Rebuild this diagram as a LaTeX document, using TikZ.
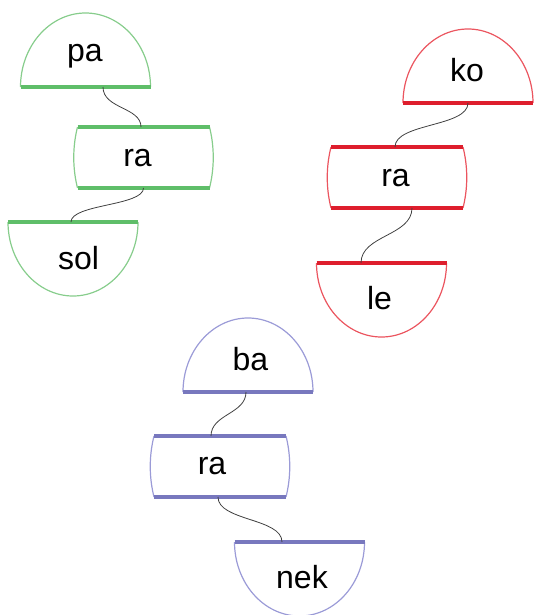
\documentclass[tikz,border=0pt]{standalone}
\usepackage{fontspec}
\setmainfont{Liberation Sans}
\newdimen\pxu \pxu=0.75pt
\definecolor{gthk}{RGB}{95,190,105}
\definecolor{gout}{RGB}{135,205,140}
\definecolor{rthk}{RGB}{222,30,45}
\definecolor{rout}{RGB}{235,85,95}
\definecolor{bthk}{RGB}{120,120,190}
\definecolor{bout}{RGB}{155,155,215}
\tikzset{
  domeshp/.style={minimum width=130\pxu, minimum height=74\pxu, inner sep=0pt, outer sep=0pt, draw=none},
  boxshp/.style={minimum width=132\pxu, minimum height=61\pxu, inner sep=0pt, outer sep=0pt, draw=none},
  outl/.style={line width=0.9pt, draw=#1},
  thk/.style={line width=3pt, draw=#1},
  lbl/.style={font=\fontsize{24}{28}\selectfont, anchor=base, inner sep=0pt},
  conn/.style={draw=black!75, line width=0.6pt},
}
\newcommand\mkdome[5]{% name, cx, cy, outline colour, thick colour
  \node[domeshp] (#1) at (#2,#3) {};
  \draw[outl=#4] (#1.south west) arc[start angle=180,end angle=360,x radius=65,y radius=74];
  \draw[thk=#5] (#1.south west) -- (#1.south east);
}
\newcommand\mkbowl[5]{%
  \node[domeshp] (#1) at (#2,#3) {};
  \draw[outl=#4] (#1.north west) arc[start angle=180,end angle=0,x radius=65,y radius=74];
  \draw[thk=#5] (#1.north west) -- (#1.north east);
}
\newcommand\mkbox[5]{%
  \node[boxshp] (#1) at (#2,#3) {};
  \draw[outl=#4] (#1.north west) .. controls +(-5,20) and +(-5,-20) .. (#1.south west);
  \draw[outl=#4] (#1.north east) .. controls +(5,20) and +(5,-20) .. (#1.south east);
  \draw[thk=#5] (#1.north west) -- (#1.north east);
  \draw[thk=#5] (#1.south west) -- (#1.south east);
}
\begin{document}
\begin{tikzpicture}[x=0.75pt,y=-0.75pt]
\useasboundingbox (0,0) rectangle (533,615);
% green
\mkdome{pa}{85.5}{50}{gout}{gthk}
\mkbox{gra}{143.5}{157.5}{gout}{gthk}
\mkbowl{sol}{73}{259}{gout}{gthk}
% red
\mkdome{ko}{468}{66}{rout}{rthk}
\mkbox{rra}{397}{177.5}{rout}{rthk}
\mkbowl{le}{381.5}{300}{rout}{rthk}
% blue
\mkdome{ba}{248}{355}{bout}{bthk}
\mkbox{bra}{220}{466.5}{bout}{bthk}
\mkbowl{nek}{299.5}{579}{bout}{bthk}
% labels
\node[lbl] (tpa) at (85,61) {pa};
\node[lbl] (tgra) at (137.5,166) {ra};
\node[lbl] (tsol) at (78.5,269) {sol};
\node[lbl] (tko) at (467,81) {ko};
\node[lbl] (trra) at (395.5,186) {ra};
\node[lbl] (tle) at (379.5,309) {le};
\node[lbl] (tba) at (250.5,370) {ba};
\node[lbl] (tbra) at (212,474) {ra};
\node[lbl] (tnek) at (302,588) {nek};
% connectors
\draw[conn] ([xshift=17.5\pxu]pa.south) .. controls +(0,22) and +(0,-20) .. ([xshift=-2.5\pxu]gra.north);
\draw[conn] (gra.south) .. controls +(0,18) and +(0,-18) .. ([xshift=-2\pxu]sol.north);
\draw[conn] (ko.south) .. controls +(0,24) and +(0,-24) .. ([xshift=-2\pxu]rra.north);
\draw[conn] ([xshift=15\pxu]rra.south) .. controls +(0,28) and +(0,-28) .. ([xshift=-20.5\pxu]le.north);
\draw[conn] ([xshift=-2\pxu]ba.south) .. controls +(0,22) and +(0,-22) .. ([xshift=-9\pxu]bra.north);
\draw[conn] ([xshift=-2\pxu]bra.south) .. controls +(0,24) and +(0,-24) .. ([xshift=-17.5\pxu]nek.north);
\end{tikzpicture}
\end{document}
